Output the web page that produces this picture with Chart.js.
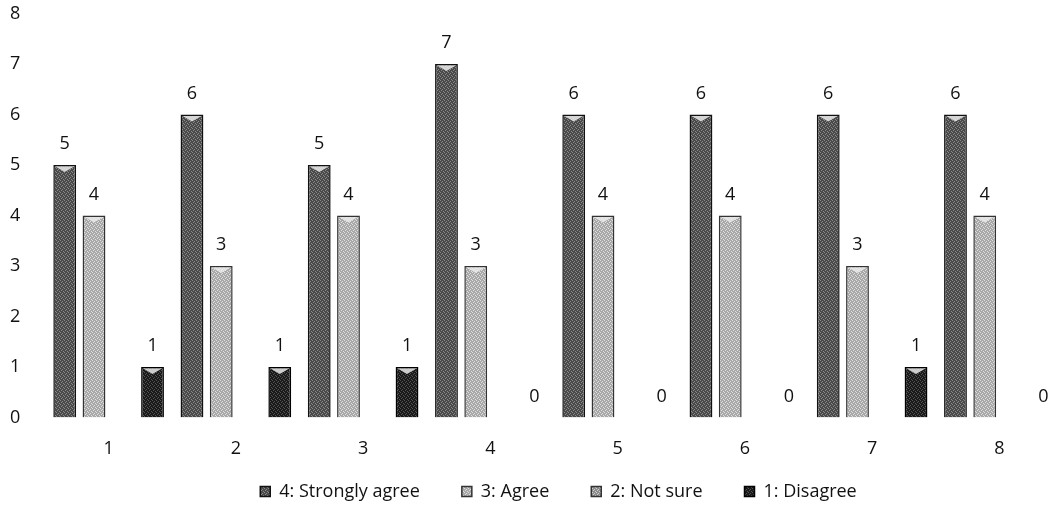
<!DOCTYPE html>
<html>
<head>
<meta charset="utf-8">
<script src="https://cdn.jsdelivr.net/npm/chart.js@4"></script>
<style>
  html, body { margin: 0; padding: 0; background: #fff; }
  #wrap { width: 1063px; height: 508px; }
</style>
</head>
<body>
<div id="wrap"><canvas id="chart"></canvas></div>
<script>
const categories = ['1', '2', '3', '4', '5', '6', '7', '8'];
const stronglyAgree = [5, 6, 5, 7, 6, 6, 6, 6];
const agree = [4, 3, 4, 3, 4, 4, 3, 4];
const notSure = [null, null, null, null, null, null, null, null];
const disagree = [1, 1, 1, 0, 0, 0, 1, 0];
const yTicks = [0, 1, 2, 3, 4, 5, 6, 7, 8];

const FONT = '"Open Sans", "Noto Sans", sans-serif';

// dotted grey texture, a bit like the scanned bars
function makePattern(base, dots){
    const c = document.createElement('canvas');
    c.width = 4; c.height = 4;
    const g = c.getContext('2d');
    g.fillStyle = base;
    g.fillRect(0, 0, 4, 4);
    g.fillStyle = dots;
    g.fillRect(0, 0, 1, 1);
    g.fillRect(2, 1, 1, 1);
    g.fillRect(1, 2, 1, 1);
    g.fillRect(3, 3, 1, 1);
    return g.createPattern(c, 'repeat');
}

// value above each bar + the light notch on top of the old 3d columns
const valueLabels = {
    id: 'valueLabels',
    afterDatasetsDraw(chart){
        const ctx = chart.ctx;
        ctx.save();
        chart.data.datasets.forEach((ds, i) => {
            const meta = chart.getDatasetMeta(i);
            meta.data.forEach((bar, j) => {
                const v = ds.data[j];
                if(v === null || v === undefined) return;
                if(v > 0){
                    const half = bar.width / 2 - 2;
                    ctx.fillStyle = 'rgba(235,235,235,0.85)';
                    ctx.beginPath();
                    ctx.moveTo(bar.x - half, bar.y + 1.5);
                    ctx.lineTo(bar.x + half, bar.y + 1.5);
                    ctx.lineTo(bar.x, bar.y + 7);
                    ctx.closePath();
                    ctx.fill();
                }
                ctx.font = '18px ' + FONT;
                ctx.fillStyle = '#111';
                ctx.textAlign = 'center';
                ctx.textBaseline = 'middle';
                ctx.fillText(String(v), bar.x, bar.y - 21);
            });
        });
        ctx.restore();
    }
};

// the legend in the scan sits a bit right of centre and close under the axis labels
const legendShift = {
    id: 'legendShift',
    afterLayout(chart){
        const l = chart.legend;
        l.left += 22; l.right += 22;
        l.top -= 21; l.bottom -= 21;
    }
};

const ctx = document.getElementById('chart');
new Chart(ctx, {
    type: 'bar',
    data: {
        labels: categories,
        datasets: [
            { label: '4: Strongly agree', data: stronglyAgree, backgroundColor: makePattern('#4a4a4a', '#8a8a8a'), borderColor: '#111', borderWidth: 1.5 },
            { label: '3: Agree', data: agree, backgroundColor: makePattern('#a8a8a8', '#e0e0e0'), borderColor: '#333', borderWidth: 1.5 },
            { label: '2: Not sure', data: notSure, backgroundColor: makePattern('#8c8c8c', '#cfcfcf'), borderColor: '#333', borderWidth: 1.5 },
            { label: '1: Disagree', data: disagree, backgroundColor: makePattern('#1a1a1a', '#555'), borderColor: '#000', borderWidth: 1.5 }
        ]
    },
    options: {
        responsive: true,
        maintainAspectRatio: false,
        animation: false,
        categoryPercentage: 0.92,
        barPercentage: 0.78,
        layout: { padding: { top: 13.5, right: 0, left: 10, bottom: -23.5 } },
        plugins: {
            legend: {
                position: 'bottom',
                labels: {
                    boxWidth: 10,
                    boxHeight: 10,
                    padding: 42,
                    color: '#111',
                    font: { family: FONT, size: 18 }
                }
            },
            tooltip: { enabled: false }
        },
        scales: {
            x: {
                grid: { display: false, drawTicks: false },
                border: { display: false },
                afterFit: axis => { axis.height = 44; },
                ticks: {
                    padding: 21,
                    color: '#111',
                    font: { family: FONT, size: 18 }
                }
            },
            y: {
                min: 0,
                max: 8,
                afterBuildTicks: axis => { axis.ticks = yTicks.map(v => ({ value: v })); },
                afterFit: axis => { axis.width = 35; },
                grid: { display: false, drawTicks: false },
                border: { display: false },
                ticks: {
                    padding: 0,
                    crossAlign: 'far',
                    color: '#111',
                    font: { family: FONT, size: 18 }
                }
            }
        }
    },
    plugins: [valueLabels, legendShift]
});
</script>
</body>
</html>
